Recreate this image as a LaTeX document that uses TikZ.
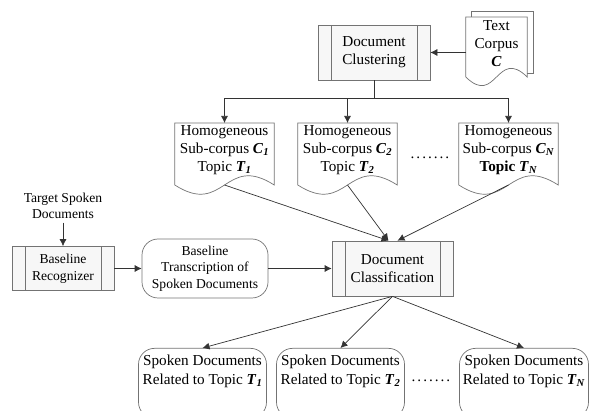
\documentclass[tikz,border=0pt]{standalone}
\usepackage{fontspec}
\setmainfont{Liberation Serif}
\usetikzlibrary{arrows.meta,calc}

\newcommand{\bsym}[2]{\textbf{\textit{#1}}\textsubscript{\textbf{\textit{#2}}}}
\newcommand{\dotrow}{.\kern2pt.\kern2pt.\kern2pt.\kern2pt.\kern2pt.\kern2pt.}

\tikzset{
  big/.style={font=\fontsize{15.2}{18.3}\selectfont},
  small/.style={font=\fontsize{13.6}{16.6}\selectfont},
  outline/.style={draw=black!55, line width=0.7pt},
  procbox/.style={outline, fill=black!3, align=center, big,
    path picture={
      \draw[black!55, line width=0.7pt]
        ($(path picture bounding box.north west)+(13pt,0pt)$) -- ($(path picture bounding box.south west)+(13pt,0pt)$)
        ($(path picture bounding box.north east)+(-13pt,0pt)$) -- ($(path picture bounding box.south east)+(-13pt,0pt)$);
    }},
  roundbox/.style={outline, rounded corners=16pt, align=center},
  docbox/.style={align=center, big, anchor=north, inner xsep=2pt, inner ysep=2pt, minimum width=99pt},
  outbox/.style={roundbox, big, anchor=north, inner ysep=7pt, text depth=27pt, minimum width=128pt},
  conn/.style={black!80, line width=0.7pt},
  arr/.style={conn, -{Latex[length=7pt,width=7pt]}},
}

\begin{document}
\begin{tikzpicture}[x=1pt,y=-1pt]

\useasboundingbox (0,0) rectangle (589,411);

% corpus and clustering
\node[docbox, minimum width=61pt, inner ysep=3pt] (corpus) at (496.5,17) {Text\\Corpus\\\textbf{\textit{C}}};
\draw[outline] ($(corpus.north west)+(6,0)$) -- ++(0,-6) -- ($(corpus.north east)+(6,-6)$)
  -- ($(corpus.north east)+(6,56)$) -- ($(corpus.north east)+(0,56)$);
\draw[outline] (corpus.north west) -- (corpus.north east) -- ($(corpus.north east)+(0,60)$)
  .. controls ($(corpus.north)+(0,30)$) and ($(corpus.north)+(0,90)$) .. ($(corpus.north west)+(0,60)$) -- cycle;

\node[procbox, minimum width=112pt, minimum height=55pt] (clus) at (374,52.5) {Document\\Clustering};
\draw[arr] (corpus.west |- clus.east) -- (clus.east);

% sub-corpora
\node[docbox] (sub1) at (224.5,123) {Homogeneous\\Sub-corpus \bsym{C}{1}\\Topic \bsym{T}{1}};
\node[docbox] (sub2) at (347.5,123) {Homogeneous\\Sub-corpus \bsym{C}{2}\\Topic \bsym{T}{2}};
\node[docbox] (subN) at (508.5,123) {Homogeneous\\Sub-corpus \bsym{C}{N}\\\textbf{Topic} \bsym{T}{N}};
\node[big] (gap1) at (430,158) {\dotrow};

\foreach \d in {sub1,sub2,subN}
  \draw[outline] (\d.north west) -- (\d.north east) -- ($(\d.north east)+(0,62)$)
    .. controls ($(\d.north)+(0,30)$) and ($(\d.north)+(0,94)$) .. ($(\d.north west)+(0,62)$) -- cycle;

\coordinate (split) at (374,98);
\draw[conn] (clus.south) -- (split);
\foreach \d in {sub1,sub2,subN}
  \draw[arr] (split) -| (\d.north);

% recognition
\node[small, align=center] (target) at (63,206) {Target Spoken\\Documents};
\node[procbox, small, minimum width=102pt, minimum height=44pt] (recog) at (63,268.5) {Baseline\\Recognizer};
\node[roundbox, small, minimum width=126pt, minimum height=59pt] (trans) at (205,268.5) {Baseline\\Transcription of\\Spoken Documents};
\node[procbox, minimum width=121pt, minimum height=55pt] (cls) at (392.5,268.5) {Document\\Classification};

\draw[arr] (target) -- (recog);
\draw[arr] (recog) -- (trans);
\draw[arr] (trans) -- (cls);

\draw[arr] ($(sub1.north)+(0,62)$) -- ($(cls.north)+(-4,0)$);
\draw[arr] ($(sub2.north)+(0,62)$) -- ($(cls.north)+(-4,0)$);
\draw[arr] ($(subN.north)+(0,62)$) -- ($(cls.north)+(5,0)$);

% results
\node[outbox] (out1) at (202.5,348) {Spoken Documents\\Related to Topic \bsym{T}{1}};
\node[outbox] (out2) at (340.5,348) {Spoken Documents\\Related to Topic \bsym{T}{2}};
\node[outbox] (outN) at (524,348) {Spoken Documents\\Related to Topic \bsym{T}{N}};
\node[big] (gap2) at (431,381) {\dotrow};

\foreach \o in {out1,out2,outN}
  \draw[arr] (cls.south) -- (\o.north);

\end{tikzpicture}
\end{document}
